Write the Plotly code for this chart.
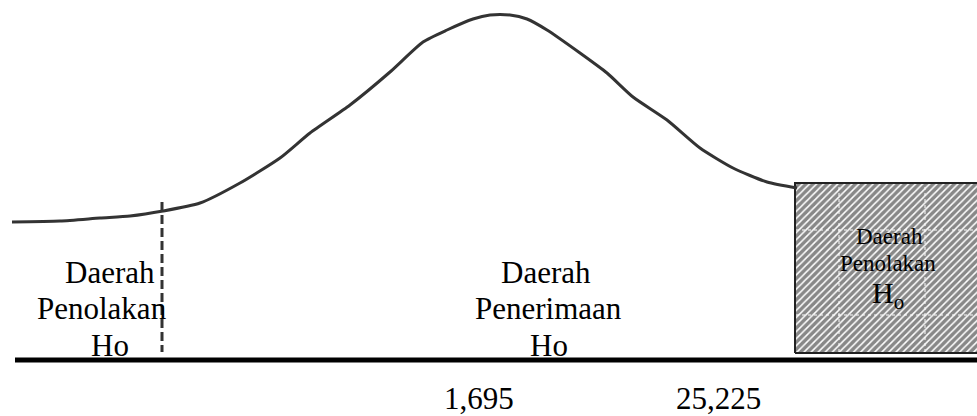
import plotly.graph_objects as go

# ---- data (x in px-like units, y = height above the baseline) ----
curve_x = [12, 60, 100, 130, 163, 200, 240, 280, 310, 350, 390, 423, 447, 473, 490,
           510, 527, 547, 580, 607, 633, 667, 700, 733, 767, 797]
curve_y = [138, 139, 142, 144, 149, 157, 177, 202, 227, 255, 288, 318, 330, 341, 345,
           345, 341, 330, 307, 287, 263, 240, 212, 192, 178, 172]

critical_left_x = [162, 162]
critical_left_y = [158, 8]

baseline_x = [15, 977]
baseline_y = [0, 0]

reject_x = [795, 795, 990, 990, 795]
reject_y = [7, 177, 177, 7, 7]

grid_h_y = [130, 45]
grid_v_x = [839, 925]

left_lines = ["Daerah", "Penolakan", "Ho"]
left_line_x = [110, 102, 110]
mid_lines = ["Daerah", "Penerimaan", "Ho"]
mid_line_x = [546, 548, 549]
line_y = [88, 52, 15]

box_lines = ["Daerah", "Penolakan"]
box_line_x = [889, 888]
box_line_y = [124, 97]

tick_labels = ["1,695", "25,225"]
tick_x = [479, 718]

FONT = "Liberation Serif, Times New Roman, serif"

fig = go.Figure()

# rejection area (hatched)
fig.add_trace(go.Scatter(
    x=reject_x, y=reject_y, mode="lines", fill="toself",
    line=dict(color="#222222", width=2),
    fillcolor="white",
    fillpattern=dict(shape="/", fgcolor="#111111", bgcolor="white", size=5, solidity=0.7),
    hoverinfo="skip", showlegend=False))

# faint dashed gridlines inside box
for gy in grid_h_y:
    fig.add_trace(go.Scatter(x=[796, 977], y=[gy, gy], mode="lines",
                             line=dict(color="white", width=1, dash="3px,3px"),
                             hoverinfo="skip", showlegend=False))
for gx in grid_v_x:
    fig.add_trace(go.Scatter(x=[gx, gx], y=[8, 176], mode="lines",
                             line=dict(color="white", width=1, dash="3px,3px"),
                             hoverinfo="skip", showlegend=False))

# curve
fig.add_trace(go.Scatter(x=curve_x, y=curve_y, mode="lines",
                         line=dict(color="#333333", width=3, shape="spline", smoothing=0.6),
                         hoverinfo="skip", showlegend=False))

# dashed critical line
fig.add_trace(go.Scatter(x=critical_left_x, y=critical_left_y, mode="lines",
                         line=dict(color="#333333", width=3, dash="9px,4px"),
                         hoverinfo="skip", showlegend=False))

# baseline
fig.add_trace(go.Scatter(x=baseline_x, y=baseline_y, mode="lines",
                         line=dict(color="black", width=5),
                         hoverinfo="skip", showlegend=False))

big = dict(family=FONT, size=31, color="black")
box = dict(family=FONT, size=23, color="black")
ann = []
for t, tx, ty in zip(left_lines, left_line_x, line_y):
    ann.append(dict(x=tx, y=ty, text=t, font=big))
for t, tx, ty in zip(mid_lines, mid_line_x, line_y):
    ann.append(dict(x=tx, y=ty, text=t, font=big))
for t, tx, ty in zip(box_lines, box_line_x, box_line_y):
    ann.append(dict(x=tx, y=ty, text=t, font=box))
ann.append(dict(x=888, y=65, text="H<sub>o</sub>", font=dict(family=FONT, size=30, color="black")))
for lbl, tx in zip(tick_labels, tick_x):
    ann.append(dict(x=tx, y=-38, text=lbl, font=big))
for a in ann:
    fig.add_annotation(xref="x", yref="y", showarrow=False, xanchor="center",
                       yanchor="middle", align="center", **a)

fig.update_layout(
    width=977, height=416, margin=dict(l=0, r=0, t=0, b=0),
    paper_bgcolor="white", plot_bgcolor="white",
    xaxis=dict(range=[0, 977], visible=False, fixedrange=True),
    yaxis=dict(range=[-56, 360], visible=False, fixedrange=True),
)

fig.write_html("out.html", config={"displayModeBar": False},
               post_script="document.body.style.margin='0';document.body.style.padding='0';document.body.style.overflow='hidden';")
